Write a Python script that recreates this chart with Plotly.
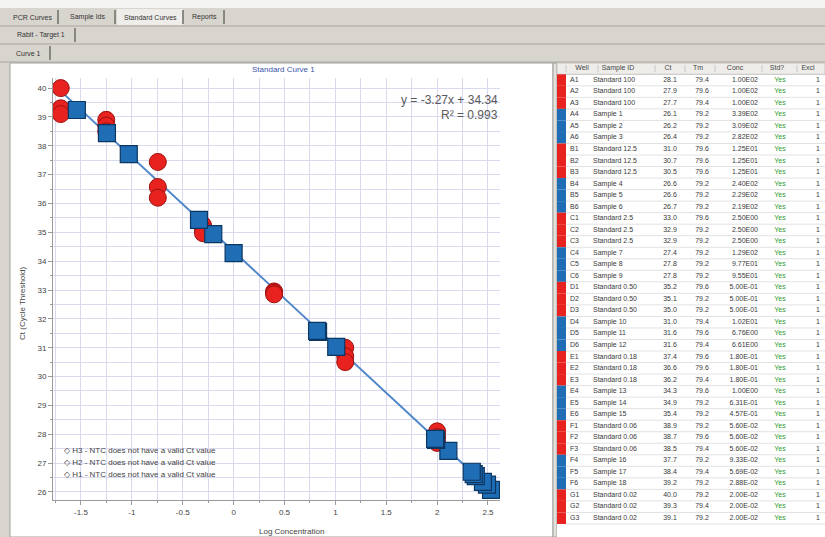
import math
import plotly.graph_objects as go

W, H = 825, 537

# ---- standard curve data -------------------------------------------------
std_conc = [100, 12.5, 2.5, 0.5, 0.18, 0.056, 0.02]
std_ct = [
    [28.1, 27.9, 27.7],
    [31.0, 30.7, 30.5],
    [32.95, 32.9, 32.85],
    [35.25, 35.1, 34.97],
    [37.44, 36.57, 36.2],
    [38.9, 38.7, 38.5],
    [40.0, 39.3, 39.1],
]
sample_conc = [339, 309, 282, 240, 229, 219, 129, 97.7, 95.5,
               10.2, 6.76, 6.61, 1.00, 0.631, 0.457, 0.0933, 0.0569, 0.0288]
sample_ct = [26.07, 26.25, 26.35, 26.55, 26.62, 26.70, 27.42, 27.80, 27.84,
             31.03, 31.55, 31.58, 34.28, 34.94, 35.43, 37.71, 38.44, 39.24]
tm_values = [79.4, 79.6, 79.4, 79.2, 79.2, 79.2, 79.6, 79.6, 79.6, 79.2, 79.2, 79.2,
             79.6, 79.2, 79.2, 79.2, 79.2, 79.2, 79.6, 79.2, 79.2, 79.4, 79.6, 79.4,
             79.6, 79.6, 79.4, 79.6, 79.2, 79.2, 79.2, 79.6, 79.4, 79.2, 79.4, 79.2,
             79.2, 79.4, 79.2]
well_rows = ["A", "B", "C", "D", "E", "F", "G"]
fit_slope, fit_intercept, fit_r2 = -3.27, 34.34, 0.993
ntc_wells = ["H3", "H2", "H1"]

x_ticks = [-1.5, -1, -0.5, 0, 0.5, 1, 1.5, 2, 2.5]
y_ticks = list(range(26, 41))

tab_row1 = ["PCR Curves", "Sample Ids", "Standard Curves", "Reports"]
tab_row2 = ["Rabit - Target 1"]
tab_row3 = ["Curve 1"]

table_headers = ["Well", "Sample ID", "Ct", "Tm", "Conc", "Std?", "Excl"]

RED, RED_EDGE = "#e8231f", "#9c1010"
BLUE, BLUE_EDGE = "#1f6db4", "#0c3763"
FONT = "Liberation Sans"
TXT = "#3a3a3a"


def px(x):
    return x / W


def py(y):
    return 1 - y / H


def sci(v):
    m, e = f"{v:.2E}".split("E")
    e = int(e)
    return f"{m}E{e:02d}" if e >= 0 else f"{m}E-{abs(e):02d}"


# ---- table rows ---------------------------------------------------------------
t_color, t_well, t_id, t_ct, t_conc = [], [], [], [], []
for i, row in enumerate(well_rows):
    for k in range(3):
        t_color.append(RED)
        t_well.append(f"{row}{k + 1}")
        t_id.append(f"Standard {std_conc[i]:g}" if std_conc[i] >= 1 else f"Standard {std_conc[i]:.2f}")
        t_ct.append(f"{std_ct[i][k]:.1f}")
        t_conc.append(sci(std_conc[i]))
    if i < 6:
        for k in range(3):
            s = 3 * i + k
            t_color.append(BLUE)
            t_well.append(f"{row}{k + 4}")
            t_id.append(f"Sample {s + 1}")
            t_ct.append(f"{sample_ct[s]:.1f}")
            t_conc.append(sci(sample_conc[s]))
n_rows = len(t_well)
t_tm = [f"{v:.1f}" for v in tm_values[:n_rows]]
t_std = ["Yes"] * n_rows
t_excl = ["1"] * n_rows

fig = go.Figure()

# regression line across the measured range
all_x = [math.log10(c) for c in std_conc] + [math.log10(c) for c in sample_conc]
lx = [min(all_x), max(all_x)]
fig.add_trace(go.Scatter(
    x=lx, y=[fit_slope * v + fit_intercept for v in lx], mode="lines",
    line=dict(color="#4f86c9", width=2), hoverinfo="skip", showlegend=False))

# standards (red circles)
sx, sy = [], []
for c, cts in zip(std_conc, std_ct):
    for ct in cts:
        sx.append(math.log10(c))
        sy.append(ct)
fig.add_trace(go.Scatter(
    x=sx, y=sy, mode="markers", name="Standards", showlegend=False,
    marker=dict(symbol="circle", size=17, color=RED, line=dict(color=RED_EDGE, width=1))))

# unknown samples (blue squares)
fig.add_trace(go.Scatter(
    x=[math.log10(c) for c in sample_conc], y=sample_ct, mode="markers",
    name="Samples", showlegend=False,
    marker=dict(symbol="square", size=17, color=BLUE, line=dict(color=BLUE_EDGE, width=1.2))))

# ---- results table drawn on a pixel-scaled overlay axis -----------------------
ROW_TOP, ROW_H, HEAD_TOP, HEAD_BOT = 74.3, 11.53, 63, 74.3
row_mid = [ROW_TOP + ROW_H * (i + 0.5) for i in range(n_rows)]
head_mid = (HEAD_TOP + HEAD_BOT) / 2

cols = [  # values, x, text position, colour
    (t_well, 570, "middle right", TXT),
    (t_id, 593, "middle right", TXT),
    (t_ct, 670, "middle center", TXT),
    (t_tm, 702, "middle center", TXT),
    (t_conc, 758, "middle left", TXT),
    (t_std, 780, "middle center", "#2e9a2e"),
    (t_excl, 820, "middle left", TXT),
]
for vals, x, pos, col in cols:
    fig.add_trace(go.Scatter(
        x=[x] * n_rows, y=row_mid, text=vals, mode="text", textposition=pos,
        textfont=dict(family=FONT, size=7, color=col), xaxis="x2", yaxis="y2",
        hoverinfo="skip", showlegend=False, cliponaxis=False))
head_x = [582, 618, 668, 698, 735, 777, 808]
fig.add_trace(go.Scatter(
    x=head_x, y=[head_mid] * len(head_x), text=table_headers, mode="text",
    textposition="middle center", textfont=dict(family=FONT, size=7, color="#444"),
    xaxis="x2", yaxis="y2", hoverinfo="skip", showlegend=False, cliponaxis=False))

shapes = []
annotations = []

# table background, header, row lines and colour swatches
shapes.append(dict(type="rect", xref="x2", yref="y2", x0=557, x1=825, y0=HEAD_TOP, y1=537,
                   fillcolor="white", line=dict(width=0), layer="below"))
shapes.append(dict(type="rect", xref="x2", yref="y2", x0=557, x1=825, y0=HEAD_TOP, y1=HEAD_BOT,
                   fillcolor="#eeede9", line=dict(color="#c4c4c4", width=1), layer="below"))
for sep in [566, 598, 655, 685, 715, 762, 797]:
    shapes.append(dict(type="line", xref="x2", yref="y2", x0=sep, x1=sep, y0=HEAD_TOP + 2,
                       y1=HEAD_BOT - 2, line=dict(color="#c8c8c8", width=1)))
for i in range(n_rows):
    y0 = ROW_TOP + ROW_H * i
    shapes.append(dict(type="rect", xref="x2", yref="y2", x0=557, x1=566, y0=y0, y1=y0 + ROW_H,
                       fillcolor=t_color[i], line=dict(width=0)))
    shapes.append(dict(type="line", xref="x2", yref="y2", x0=566, x1=825, y0=y0 + ROW_H,
                       y1=y0 + ROW_H, line=dict(color="#e2e2e2", width=1)))

# window chrome: top strip and tab rows
shapes.append(dict(type="rect", xref="paper", yref="paper", x0=0, x1=1, y0=py(8), y1=1,
                   fillcolor="#f4f4f2", line=dict(width=0), layer="below"))
tab_specs = [
    (tab_row1, [(6, 58), (60, 115), (117, 183), (185, 224)], 9, 25, 2),
    (tab_row2, [(6, 75)], 27, 43, -1),
    (tab_row3, [(6, 50)], 45, 61, -1),
]
for labels, spans, y0, y1, sel in tab_specs:
    shapes.append(dict(type="line", xref="paper", yref="paper", x0=0, x1=1,
                       y0=py(y1 + 1), y1=py(y1 + 1), line=dict(color="#a9a69f", width=1)))
    for j, (lab, (a, b)) in enumerate(zip(labels, spans)):
        if j == sel:
            shapes.append(dict(type="rect", xref="paper", yref="paper", x0=px(a), x1=px(b),
                               y0=py(y1), y1=py(y0), fillcolor="#eeede9",
                               line=dict(width=0), layer="below"))
        shapes.append(dict(type="line", xref="paper", yref="paper", x0=px(b), x1=px(b),
                           y0=py(y1 - 1), y1=py(y0 + 1), line=dict(color="#6e6c66", width=1.5)))
        annotations.append(dict(text=lab, xref="paper", yref="paper", x=px((a + b) / 2),
                                y=py((y0 + y1) / 2), xanchor="center", yanchor="middle",
                                showarrow=False, font=dict(family=FONT, size=7, color="#333")))

# chart panel
shapes.append(dict(type="rect", xref="paper", yref="paper", x0=px(10), x1=px(553),
                   y0=0, y1=py(63), fillcolor="white", line=dict(color="#a0a0a0", width=1),
                   layer="below"))
shapes.append(dict(type="rect", xref="paper", yref="paper", x0=px(553), x1=px(557),
                   y0=0, y1=py(63), fillcolor="#e2e0da", line=dict(color="#a0a0a0", width=1),
                   layer="below"))

# fit equation
annotations.append(dict(text=f"y = {fit_slope:.2f}x + {fit_intercept:.2f}", xref="paper",
                        yref="paper", x=px(500), y=py(100), xanchor="right", yanchor="middle",
                        showarrow=False, font=dict(family=FONT, size=12, color="#5a5a5a")))
annotations.append(dict(text=f"R² = {fit_r2:.3f}", xref="paper", yref="paper", x=px(500),
                        y=py(115), xanchor="right", yanchor="middle", showarrow=False,
                        font=dict(family=FONT, size=12, color="#5a5a5a")))

# NTC notes
for k, well in enumerate(ntc_wells):
    annotations.append(dict(text=f"◇ {well} - NTC does not have a valid Ct value",
                            xref="paper", yref="paper", x=px(62), y=py(451 + 11.5 * k),
                            xanchor="left", yanchor="middle", showarrow=False,
                            font=dict(family=FONT, size=8, color="#444")))

# titles
annotations.append(dict(text="Standard Curve 1", xref="paper", yref="paper", x=px(283),
                        y=py(70), xanchor="center", yanchor="middle", showarrow=False,
                        font=dict(family=FONT, size=8, color="#3a55a8")))
annotations.append(dict(text="Ct (Cycle Threshold)", xref="paper", yref="paper", x=px(22),
                        y=py(303), xanchor="center", yanchor="middle", textangle=-90,
                        showarrow=False, font=dict(family=FONT, size=8, color="#444")))
annotations.append(dict(text="Log Concentration", xref="paper", yref="paper", x=px(291),
                        y=py(531), xanchor="center", yanchor="middle", showarrow=False,
                        font=dict(family=FONT, size=8, color="#444")))

GRID = "#d9d9f0"
fig.update_layout(
    width=W, height=H, margin=dict(l=0, r=0, t=0, b=0),
    paper_bgcolor="#d8d5ce", plot_bgcolor="white",
    shapes=shapes, annotations=annotations,
    xaxis=dict(domain=[px(53), px(500)], range=[-1.775, 2.618],
               tickvals=x_ticks, ticktext=[f"{v:g}" for v in x_ticks],
               showgrid=True, gridcolor=GRID, gridwidth=1, zeroline=False,
               showline=True, linecolor="#9a9a9a", ticks="outside", ticklen=4,
               tickcolor="#9a9a9a",
               minor=dict(dtick=0.25, showgrid=True, gridcolor=GRID, ticks="outside",
                          ticklen=2, tickcolor="#9a9a9a"),
               tickfont=dict(family=FONT, size=8, color="#444")),
    yaxis=dict(domain=[py(500), py(78)], range=[25.72, 40.35],
               tickvals=y_ticks, showgrid=True, gridcolor=GRID, gridwidth=1, zeroline=False,
               showline=True, linecolor="#9a9a9a", ticks="outside", ticklen=4,
               tickcolor="#9a9a9a",
               minor=dict(dtick=0.5, showgrid=True, gridcolor=GRID, ticks="outside",
                          ticklen=2, tickcolor="#9a9a9a"),
               tickfont=dict(family=FONT, size=8, color="#444")),
    xaxis2=dict(domain=[px(557), 1], range=[557, 825], visible=False, fixedrange=True),
    yaxis2=dict(domain=[0, py(63)], range=[537, 63], visible=False, fixedrange=True),
)

fig.write_html("out.html")
